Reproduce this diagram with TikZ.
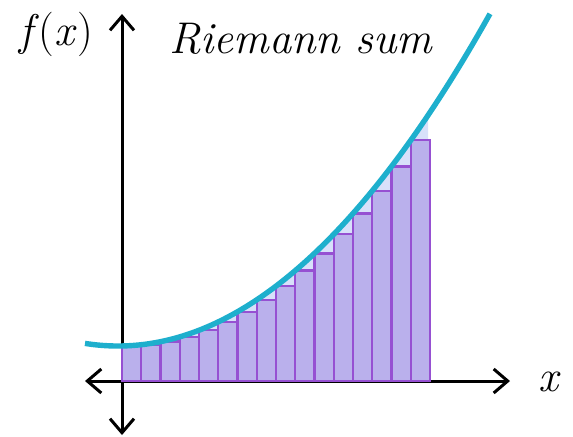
\documentclass[tikz,border=0pt]{standalone}
\usetikzlibrary{arrows.meta}
\definecolor{curvecol}{RGB}{30,175,205}
\definecolor{rectfill}{RGB}{186,176,236}
\definecolor{rectline}{RGB}{150,80,210}
\definecolor{underfill}{RGB}{216,224,250}
\tikzset{
  axisline/.style={line width=1.5pt, black, {Straight Barb[length=7pt,width=12pt,line width=1.5pt]}-{Straight Barb[length=7pt,width=12pt,line width=1.5pt]}},
  bar/.style={fill=rectfill, draw=rectline, line width=1.2pt},
  curveline/.style={curvecol, line width=2.7pt},
  lbl/.style={font=\fontsize{22.2}{26}\selectfont\itshape, inner sep=0pt, anchor=base}
}
\begin{document}
\begin{tikzpicture}[x=0.5pt,y=-0.5pt]
\useasboundingbox (0,0) rectangle (573,436);
% axes
\coordinate (ytop) at (122,14);
\coordinate (ybot) at (122,435);
\coordinate (xleft) at (85,381);
\coordinate (xright) at (510,381);
\draw[axisline] (ytop) -- (ybot);
\draw[axisline] (xleft) -- (xright);
% light area under curve
\fill[underfill] (122,381) -- plot[domain=122:428,samples=60] (\x,{346-((\x-118)/20.41)^2}) -- (428,381) -- cycle;
% rectangles
\foreach \i in {0,...,15}{
  \pgfmathsetmacro{\xa}{122+19.25*\i}
  \pgfmathsetmacro{\xb}{122+19.25*(\i+1)}
  \pgfmathsetmacro{\yt}{346-((\xa-118)/20.41)^2}
  \draw[bar] (\xa,381) rectangle (\xb,\yt);
}
% curve
\draw[curveline] plot[domain=85:490,samples=100] (\x,{346-((\x-118)/20.41)^2});
% labels
\node[lbl] (fx) at (56,45) {f\textup{(}x\textup{)}};
\node[lbl] (title) at (301,53) {Riemann sum};
\node[lbl] (xl) at (548,391) {x};
\end{tikzpicture}
\end{document}
